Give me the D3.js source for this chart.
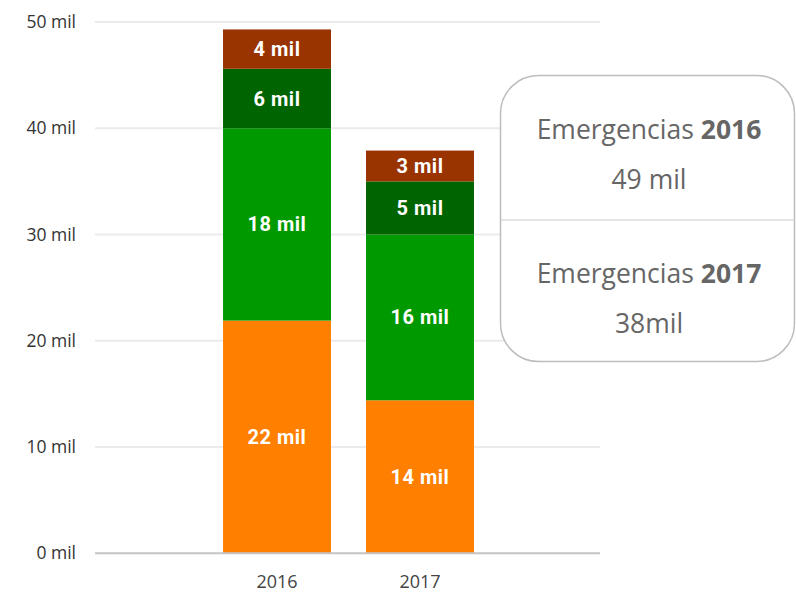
<!DOCTYPE html>
<html>
<head>
<meta charset="utf-8">
<script src="https://cdn.jsdelivr.net/npm/d3@7"></script>
<style>
  html, body { margin: 0; padding: 0; background: #fff; }
  svg { display: block; }
</style>
</head>
<body>
<svg id="chart" width="796" height="593"></svg>
<script>
const years = ["2016", "2017"];
const seriesNames = ["naranja", "verde", "verdeOscuro", "marron"];
const naranja = [21.9, 14.4];
const verde = [18.1, 15.6];
const verdeOscuro = [5.6, 5.0];
const marron = [3.7, 2.9];
const segLabels = [["22 mil", "14 mil"], ["18 mil", "16 mil"], ["6 mil", "5 mil"], ["4 mil", "3 mil"]];
const yTicks = [0, 10, 20, 30, 40, 50];
const totalLabels = ["49 mil", "38mil"];
const colors = ["#ff8000", "#009900", "#006400", "#993300"];

const svg = d3.select("#chart");
const y = d3.scaleLinear().domain([0, 50]).range([553.3, 22]);
const x = d3.scaleBand().domain(years).range([188, 509]).padding(0.245);

// grid
svg.append("g").selectAll("line").data(yTicks.filter(d => d > 0)).join("line")
  .attr("x1", 95).attr("x2", 600)
  .attr("y1", d => y(d)).attr("y2", d => y(d))
  .attr("stroke", "#ebebeb").attr("stroke-width", 2);

// y axis labels
const yAxis = d3.axisLeft(y).tickValues(yTicks).tickSize(0).tickPadding(0)
  .tickFormat(d => d + " mil");
const ga = svg.append("g").attr("transform", "translate(76,0)").call(yAxis);
ga.select(".domain").remove();
ga.selectAll("text").attr("font-family", "'Open Sans', sans-serif")
  .attr("font-size", 17.5).attr("fill", "#333");

// stacked data
const table = years.map((yr, i) => ({
  year: yr, naranja: naranja[i], verde: verde[i], verdeOscuro: verdeOscuro[i], marron: marron[i]
}));
const stacked = d3.stack().keys(seriesNames)(table);

const layers = svg.append("g").selectAll("g").data(stacked).join("g")
  .attr("fill", (d, i) => colors[i]);
layers.selectAll("rect").data(d => d).join("rect")
  .attr("x", d => x(d.data.year))
  .attr("width", x.bandwidth())
  .attr("y", d => y(d[1]))
  .attr("height", d => y(d[0]) - y(d[1]));

// segment labels
stacked.forEach((layer, li) => {
  svg.append("g").selectAll("text").data(layer).join("text")
    .attr("x", d => x(d.data.year) + x.bandwidth() / 2)
    .attr("y", d => (y(d[0]) + y(d[1])) / 2)
    .attr("dy", "0.35em")
    .attr("text-anchor", "middle")
    .attr("font-family", "Roboto, sans-serif")
    .attr("font-weight", "bold")
    .attr("font-size", 20)
    .attr("letter-spacing", 0.5)
    .attr("fill", "#fff")
    .text((d, i) => segLabels[li][i]);
});

// baseline
svg.append("line").attr("x1", 95).attr("x2", 600)
  .attr("y1", y(0)).attr("y2", y(0))
  .attr("stroke", "#c4c4c4").attr("stroke-width", 2);

// x axis labels
const xAxis = d3.axisBottom(x).tickSize(0).tickPadding(0);
const gx = svg.append("g").attr("transform", "translate(0,575)").call(xAxis);
gx.select(".domain").remove();
gx.selectAll("text").attr("font-family", "'Open Sans', sans-serif")
  .attr("font-size", 18).attr("fill", "#444");

// tooltip box
const tip = svg.append("g");
tip.append("rect").attr("x", 500.5).attr("y", 75.5).attr("width", 294).attr("height", 286)
  .attr("rx", 38).attr("ry", 38)
  .attr("fill", "#fff").attr("stroke", "#bdbdbd").attr("stroke-width", 1.5);
tip.append("line").attr("x1", 501).attr("x2", 794).attr("y1", 220).attr("y2", 220)
  .attr("stroke", "#dcdcdc").attr("stroke-width", 1.5);

const tipRows = [139, 283];
years.forEach((yr, i) => {
  const t = tip.append("text").attr("x", 649).attr("y", tipRows[i])
    .attr("text-anchor", "middle")
    .attr("font-family", "'Open Sans', sans-serif")
    .attr("font-size", 26.5).attr("fill", "#666");
  t.append("tspan").attr("font-weight", 400).text("Emergencias ");
  t.append("tspan").attr("font-weight", "bold").text(yr);
  tip.append("text").attr("x", 649).attr("y", tipRows[i] + 50)
    .attr("text-anchor", "middle")
    .attr("font-family", "'Open Sans', sans-serif")
    .attr("font-weight", 400)
    .attr("font-size", 26.5).attr("fill", "#666")
    .text(totalLabels[i]);
});
</script>
</body>
</html>
